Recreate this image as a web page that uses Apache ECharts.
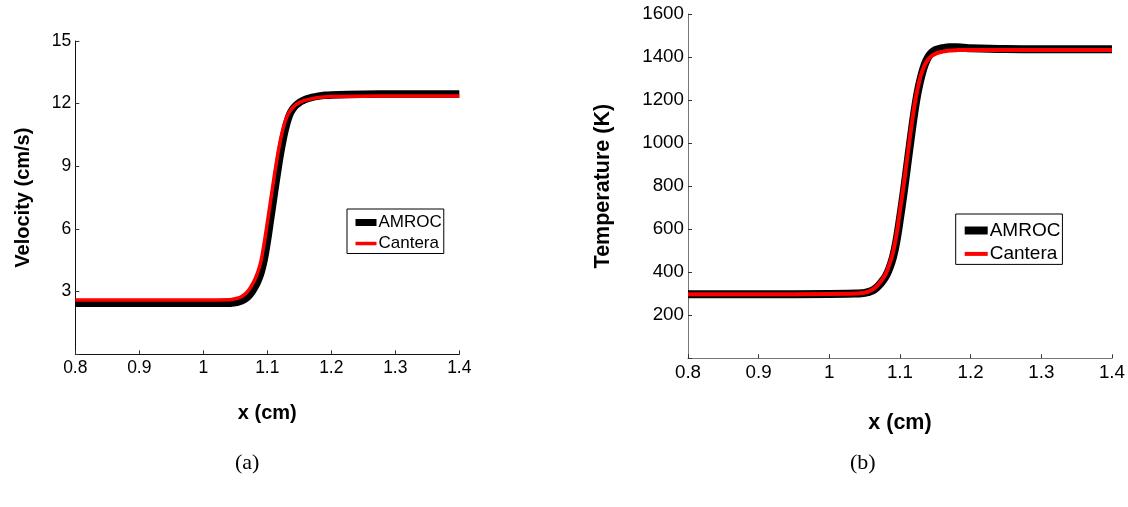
<!DOCTYPE html>
<html>
<head>
<meta charset="utf-8">
<script src="https://cdn.jsdelivr.net/npm/echarts@6/dist/echarts.min.js"></script>
<style>
  html, body { margin: 0; padding: 0; background: #fff; }
  #chart { width: 1128px; height: 507px; }
</style>
</head>
<body>
<div id="chart"></div>
<script>
// Axis ticks
const xTicks = [0.8, 0.9, 1.0, 1.1, 1.2, 1.3, 1.4];
const velTicks = [3, 6, 9, 12, 15];
const tempTicks = [200, 400, 600, 800, 1000, 1200, 1400, 1600];

// Sample positions across the flame front (cm)
const frontX = [0.80, 0.90, 1.00, 1.04, 1.045, 1.05, 1.055, 1.06, 1.065, 1.07, 1.075, 1.08, 1.085, 1.09, 1.095,
                1.10, 1.105, 1.11, 1.115, 1.12, 1.125, 1.13, 1.135, 1.14, 1.145, 1.15, 1.155, 1.16, 1.17,
                1.18, 1.19, 1.20, 1.25, 1.30, 1.40];

// (a) Velocity (cm/s)
const velAmroc = [2.44, 2.44, 2.44, 2.445, 2.454, 2.477, 2.51, 2.557, 2.637, 2.758, 2.938, 3.185, 3.49, 3.90, 4.51,
                  5.41, 6.45, 7.50, 8.54, 9.52, 10.35, 11.00, 11.48, 11.75, 11.93, 12.05, 12.14, 12.21, 12.30,
                  12.36, 12.40, 12.42, 12.45, 12.46, 12.46];
const velCantera = [2.60, 2.60, 2.60, 2.61, 2.63, 2.66, 2.70, 2.77, 2.88, 3.04, 3.27, 3.55, 3.92, 4.45, 5.30,
                    6.30, 7.33, 8.35, 9.33, 10.18, 10.85, 11.33, 11.63, 11.82, 11.95, 12.05, 12.12, 12.17, 12.24,
                    12.29, 12.32, 12.34, 12.36, 12.37, 12.37];

// (b) Temperature (K)
const tempAmroc = [298, 298, 299, 301, 302, 304, 308, 313, 323, 338, 358, 382, 418, 468, 545,
                   650, 765, 890, 1015, 1135, 1235, 1310, 1365, 1400, 1420, 1432, 1437, 1441, 1445,
                   1445, 1443, 1441, 1437, 1436, 1436];
const tempCantera = [298, 298, 299, 301, 303, 305, 310, 317, 329, 346, 367, 393, 436, 490, 573,
                     688, 800, 925, 1050, 1165, 1255, 1320, 1362, 1390, 1406, 1415, 1421, 1425, 1430,
                     1432, 1433, 1433, 1433, 1433, 1433];

const pairs = (xs, ys) => xs.map((x, i) => [x, ys[i]]);

const SANS = '"Liberation Sans", Arial, Helvetica, sans-serif';
const SERIF = '"Liberation Serif", "Times New Roman", serif';

function xAxisFor(gridIndex, fontSize, lineColor, nameGap, nameSize) {
  return {
    type: 'value', gridIndex: gridIndex,
    min: xTicks[0], max: xTicks[xTicks.length - 1], interval: 0.1,
    name: 'x (cm)', nameLocation: 'middle', nameGap: nameGap,
    nameTextStyle: { fontFamily: SANS, fontWeight: 'bold', fontSize: nameSize, color: '#000' },
    axisLine: { show: true, lineStyle: { color: lineColor, width: 1 } },
    axisTick: { show: true, inside: true, length: 4, lineStyle: { color: '#333' } },
    axisLabel: {
      fontFamily: SANS, fontSize: fontSize, color: '#000', margin: 5,
      formatter: v => {
        const t = xTicks.find(k => Math.abs(k - v) < 1e-6);
        return t === undefined ? '' : String(t);
      }
    },
    splitLine: { show: false }
  };
}

function yAxisFor(gridIndex, ticks, name, fontSize, lineColor, nameGap, nameSize) {
  return {
    type: 'value', gridIndex: gridIndex,
    min: 0, max: ticks[ticks.length - 1], interval: ticks[0],
    name: name, nameLocation: 'middle', nameRotate: 90, nameGap: nameGap,
    nameTextStyle: { fontFamily: SANS, fontWeight: 'bold', fontSize: nameSize, color: '#000' },
    axisLine: { show: true, lineStyle: { color: lineColor, width: 1 } },
    axisTick: { show: true, inside: true, length: 4, lineStyle: { color: '#333' } },
    axisLabel: {
      fontFamily: SANS, fontSize: fontSize, color: '#000', margin: 4,
      formatter: v => (ticks.indexOf(v) >= 0 ? String(v) : '')
    },
    splitLine: { show: false }
  };
}

function lineSeries(name, xi, yi, data, color, width, z) {
  return {
    type: 'line', name: name, xAxisIndex: xi, yAxisIndex: yi,
    data: data, showSymbol: false, symbol: 'none',
    smooth: 0.4,
    lineStyle: { color: color, width: width, cap: 'butt', join: 'round' },
    itemStyle: { color: color },
    z: z, silent: true, animation: false
  };
}

function legendFor(left, top, fontSize, itemW, itemH, gap, padding, wBlack, wRed) {
  return {
    left: left, top: top, orient: 'vertical',
    itemWidth: itemW, itemHeight: itemH, itemGap: gap,
    padding: padding,
    borderColor: '#000', borderWidth: 1, backgroundColor: '#fff',
    textStyle: { fontFamily: SANS, fontSize: fontSize, lineHeight: itemH, color: '#000', padding: [0, 0, 0, -3] },
    selectedMode: false,
    data: [
      { name: 'AMROC', lineStyle: { width: wBlack, color: '#000' }, itemStyle: { opacity: 0 } },
      { name: 'Cantera', lineStyle: { width: wRed, color: '#ff0000' }, itemStyle: { opacity: 0 } }
    ]
  };
}

const chart = echarts.init(document.getElementById('chart'), null, { renderer: 'canvas' });

chart.setOption({
  backgroundColor: '#fff',
  animation: false,
  grid: [
    { left: 75.3, top: 41, width: 384, height: 313.3 },
    { left: 688, top: 14, width: 425, height: 344.3 }
  ],
  xAxis: [
    xAxisFor(0, 17.5, '#111', 49, 20),
    xAxisFor(1, 18.8, '#777', 54, 21.5)
  ],
  yAxis: [
    yAxisFor(0, velTicks, 'Velocity (cm/s)', 17.5, '#111', 42, 20),
    yAxisFor(1, tempTicks, 'Temperature (K)', 18.8, '#777', 74, 21.5)
  ],
  legend: [
    legendFor(347, 209, 17, 21, 14, 4, [5, 2, 1.5, 5], 7, 3.5),
    legendFor(955.7, 214, 19, 23, 16, 4.4, [7, 2, 1, 5], 8, 4)
  ],
  series: [
    lineSeries('AMROC', 0, 0, pairs(frontX, velAmroc), '#000', 7.5, 2),
    lineSeries('Cantera', 0, 0, pairs(frontX, velCantera), '#ff0000', 3.5, 3),
    lineSeries('AMROC', 1, 1, pairs(frontX, tempAmroc), '#000', 8, 2),
    lineSeries('Cantera', 1, 1, pairs(frontX, tempCantera), '#ff0000', 4, 3)
  ],
  graphic: [
    { type: 'text', left: 235, top: 452, style: { text: '(a)', fontFamily: SERIF, fontSize: 22, fill: '#000' } },
    { type: 'text', left: 850, top: 452, style: { text: '(b)', fontFamily: SERIF, fontSize: 22, fill: '#000' } }
  ]
});
</script>
</body>
</html>
